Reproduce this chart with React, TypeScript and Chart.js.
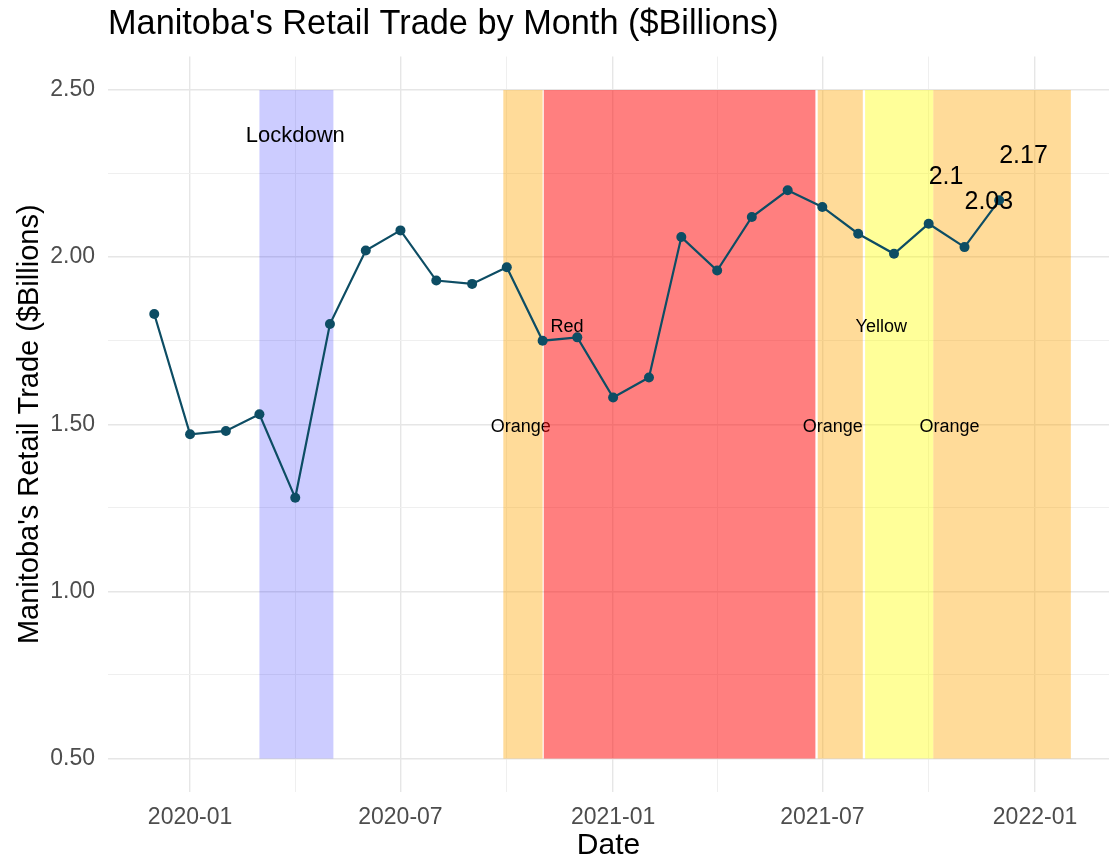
import React, { useEffect, useRef } from 'react';
import { Chart, registerables } from 'chart.js';

Chart.register(...registerables);

// ---- Data ----
const months = [
  '2019-12', '2020-01', '2020-02', '2020-03', '2020-04', '2020-05', '2020-06',
  '2020-07', '2020-08', '2020-09', '2020-10', '2020-11', '2020-12', '2021-01',
  '2021-02', '2021-03', '2021-04', '2021-05', '2021-06', '2021-07', '2021-08',
  '2021-09', '2021-10', '2021-11', '2021-12',
];
const retailTrade = [
  1.83, 1.47, 1.48, 1.53, 1.28, 1.80, 2.02,
  2.08, 1.93, 1.92, 1.97, 1.75, 1.76, 1.58,
  1.64, 2.06, 1.96, 2.12, 2.20, 2.15, 2.07,
  2.01, 2.10, 2.03, 2.17,
];

// restriction periods (shaded bands)
const zoneStarts = ['2020-03-01', '2020-09-28', '2020-11-02', '2021-06-27', '2021-08-07', '2021-10-05'];
const zoneEnds = ['2020-05-04', '2020-11-01', '2021-06-25', '2021-08-05', '2021-10-05', '2022-02-01'];
const zoneBottom = 0.5;
const zoneTop = 2.5;
const zoneLabels = ['Lockdown', 'Orange', 'Red', 'Orange', 'Yellow', 'Orange'];
const zoneLabelDates = ['2020-04-01', '2020-10-13', '2020-11-22', '2021-07-10', '2021-08-21', '2021-10-19'];
const zoneLabelValues = [2.363, 1.492, 1.792, 1.492, 1.792, 1.492];

// value annotations
const valueLabels = ['2.1', '2.03', '2.17'];
const valueLabelDates = ['2021-10', '2021-11', '2021-12'];
const valueLabelY = [2.238, 2.166, 2.301];

// axes
const xMajorTicks = ['2020-01', '2020-07', '2021-01', '2021-07', '2022-01'];
const xMinorTicks = ['2020-04', '2020-10', '2021-04', '2021-10'];
const xMin = '2019-10-22';
const xMax = '2022-03-06';
const yMajorTicks = [0.5, 1.0, 1.5, 2.0, 2.5];
const yMinorTicks = [0.75, 1.25, 1.75, 2.25];
const yMin = 0.4;
const yMax = 2.6;

// ---- Styles ----
const zoneColors = [
  'rgba(0,0,255,0.2)',
  'rgba(255,165,0,0.4)',
  'rgba(255,0,0,0.5)',
  'rgba(255,165,0,0.4)',
  'rgba(255,255,0,0.4)',
  'rgba(255,165,0,0.4)',
];
const zoneLabelSizes = [22, 18, 18, 18, 18, 18];
const FONT = '"Liberation Sans", Arial, sans-serif';
const LINE_COLOR = '#0d4d64';

function toTs(s: string): number {
  const p = s.split('-').map(Number);
  return Date.UTC(p[0], p[1] - 1, p[2] || 1);
}
function fmtMonth(v: number): string {
  const d = new Date(v);
  const m = d.getUTCMonth() + 1;
  return `${d.getUTCFullYear()}-${m < 10 ? '0' + m : m}`;
}

const xMajorSet = new Set(xMajorTicks.map(toTs));
const yMajorSet = new Set(yMajorTicks.map((v) => Math.round(v * 100)));

const annotationPlugin = {
  id: 'zonesAndLabels',
  beforeDatasetsDraw(chart: any) {
    const { ctx } = chart;
    const xs = chart.scales.x;
    const ys = chart.scales.y;
    ctx.save();
    for (let i = 0; i < zoneStarts.length; i++) {
      const x0 = xs.getPixelForValue(toTs(zoneStarts[i]));
      const x1 = xs.getPixelForValue(toTs(zoneEnds[i]));
      const y0 = ys.getPixelForValue(zoneBottom);
      const y1 = ys.getPixelForValue(zoneTop);
      ctx.fillStyle = zoneColors[i];
      ctx.fillRect(x0, y1, x1 - x0, y0 - y1);
      ctx.fillStyle = '#000000';
      ctx.font = `${zoneLabelSizes[i]}px ${FONT}`;
      ctx.textAlign = 'center';
      ctx.textBaseline = 'middle';
      ctx.fillText(
        zoneLabels[i],
        xs.getPixelForValue(toTs(zoneLabelDates[i])),
        ys.getPixelForValue(zoneLabelValues[i])
      );
    }
    ctx.restore();
  },
  afterDatasetsDraw(chart: any) {
    const { ctx } = chart;
    const xs = chart.scales.x;
    const ys = chart.scales.y;
    ctx.save();
    ctx.fillStyle = '#000000';
    ctx.font = `25px ${FONT}`;
    ctx.textAlign = 'left';
    ctx.textBaseline = 'middle';
    for (let i = 0; i < valueLabels.length; i++) {
      ctx.fillText(
        valueLabels[i],
        xs.getPixelForValue(toTs(valueLabelDates[i])),
        ys.getPixelForValue(valueLabelY[i])
      );
    }
    ctx.restore();
  },
};

export default function App() {
  const canvasRef = useRef<HTMLCanvasElement | null>(null);

  useEffect(() => {
    if (!canvasRef.current) return;
    const data = months.map((m, i) => ({ x: toTs(m), y: retailTrade[i] }));
    const chart = new Chart(canvasRef.current, {
      type: 'line',
      data: {
        datasets: [
          {
            data,
            borderColor: LINE_COLOR,
            backgroundColor: LINE_COLOR,
            borderWidth: 2.2,
            pointRadius: 5,
            pointBorderWidth: 0,
            pointBackgroundColor: LINE_COLOR,
            tension: 0,
          },
        ],
      },
      options: {
        responsive: false,
        animation: false,
        layout: { padding: 0, autoPadding: false },
        plugins: {
          legend: { display: false },
          tooltip: { enabled: false },
          title: {
            display: true,
            text: "Manitoba's Retail Trade by Month ($Billions)",
            align: 'start',
            fullSize: false,
            color: '#000000',
            font: { family: FONT, size: 34.3, weight: 'normal' },
            padding: { top: 4, bottom: 11.4 },
          },
        },
        scales: {
          x: {
            type: 'linear',
            min: toTs(xMin),
            max: toTs(xMax),
            afterBuildTicks: (scale: any) => {
              scale.ticks = [...xMinorTicks, ...xMajorTicks]
                .map(toTs)
                .sort((a, b) => a - b)
                .map((v) => ({ value: v }));
            },
            afterFit: (scale: any) => {
              scale.height = 68;
            },
            ticks: {
              autoSkip: false,
              maxRotation: 0,
              minRotation: 0,
              padding: 12,
              color: '#4d4d4d',
              font: { family: FONT, size: 23 },
              callback: (v: any) => (xMajorSet.has(Number(v)) ? fmtMonth(Number(v)) : ''),
            },
            grid: {
              drawTicks: false,
              color: (c: any) => (c.tick && xMajorSet.has(c.tick.value) ? '#e6e6e6' : '#efefef'),
              lineWidth: (c: any) => (c.tick && xMajorSet.has(c.tick.value) ? 1.4 : 1),
            },
            border: { display: false },
            title: {
              display: true,
              text: 'Date',
              color: '#000000',
              font: { family: FONT, size: 30 },
              padding: { top: 0, bottom: -4 },
            },
          },
          y: {
            type: 'linear',
            min: yMin,
            max: yMax,
            afterBuildTicks: (scale: any) => {
              scale.ticks = [...yMajorTicks, ...yMinorTicks]
                .sort((a, b) => a - b)
                .map((v) => ({ value: v }));
            },
            afterFit: (scale: any) => {
              scale.width = 108;
            },
            ticks: {
              autoSkip: false,
              padding: 13,
              color: '#4d4d4d',
              font: { family: FONT, size: 23 },
              callback: (v: any) =>
                yMajorSet.has(Math.round(Number(v) * 100)) ? Number(v).toFixed(2) : '',
            },
            grid: {
              drawTicks: false,
              color: (c: any) =>
                c.tick && yMajorSet.has(Math.round(c.tick.value * 100)) ? '#e6e6e6' : '#efefef',
              lineWidth: (c: any) =>
                c.tick && yMajorSet.has(Math.round(c.tick.value * 100)) ? 1.4 : 1,
            },
            border: { display: false },
            title: {
              display: true,
              text: "Manitoba's Retail Trade ($Billions)",
              color: '#000000',
              font: { family: FONT, size: 29 },
              padding: { top: 13, bottom: 0 },
            },
          },
        },
      },
      plugins: [annotationPlugin],
    } as any);
    return () => chart.destroy();
  }, []);

  return (
    <div style={{ position: 'absolute', left: 0, top: 0, width: 1109, height: 860, background: '#ffffff' }}>
      <canvas ref={canvasRef} width={1109} height={860} style={{ display: 'block' }} />
    </div>
  );
}
